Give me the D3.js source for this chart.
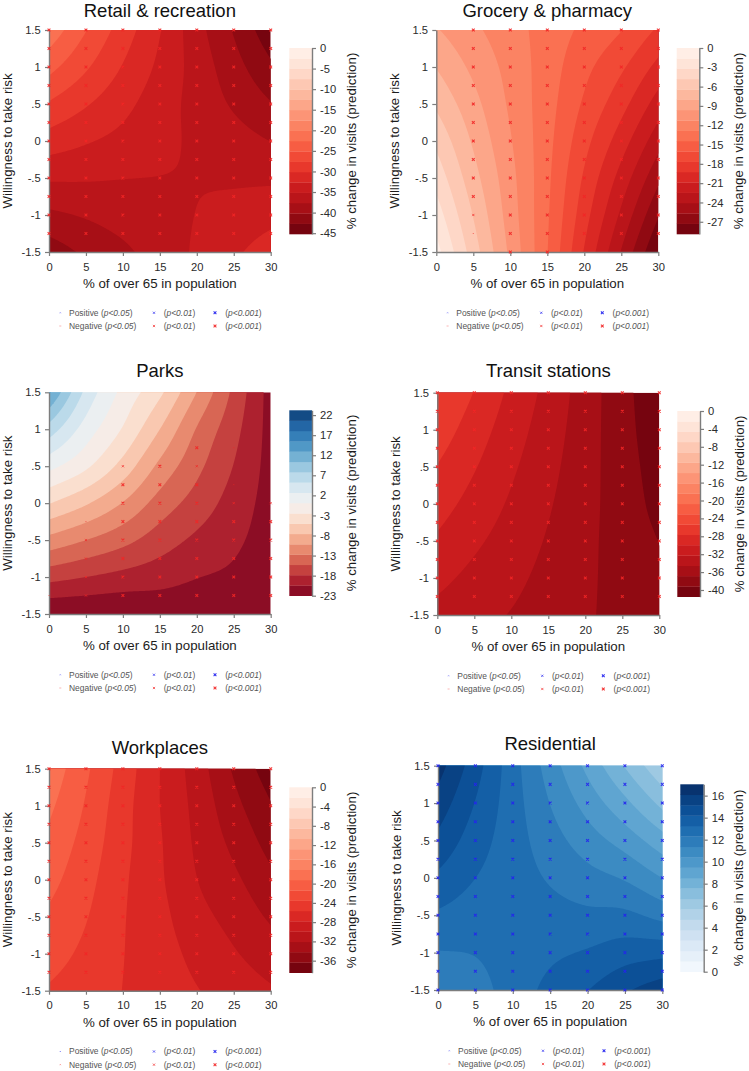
<!DOCTYPE html>
<html>
<head>
<meta charset="utf-8">
<script src="https://cdn.jsdelivr.net/npm/d3@7"></script>
<style>
html,body{margin:0;padding:0;background:#fff}
svg{display:block}
text{font-family:"Liberation Sans",Arial,sans-serif}
</style>
</head>
<body>
<svg id="chart" width="749" height="1071"></svg>
<script>
// ---- data ----
const xGrid = [0, 5, 10, 15, 20, 25, 30];
const yGrid = [1.5, 1, 0.5, 0, -0.5, -1, -1.5];
const yMarkers = [1.5, 1.25, 1, 0.75, 0.5, 0.25, 0, -0.25, -0.5, -0.75, -1, -1.25, -1.5];
const xTicks = [0, 5, 10, 15, 20, 25, 30];
const yTicks = [-1.5, -1, -0.5, 0, 0.5, 1, 1.5];
const yTickLabels = ["-1.5", "-1", "-.5", "0", ".5", "1", "1.5"];

const retailValues = [
  [-20.9,-25,-28.8,-32.5,-36.7,-40.4,-44.4],
  [-24.3,-27.3,-30.3,-33.2,-36.2,-39.2,-42.2],
  [-27.9,-29.9,-31.9,-34,-36,-38,-40],
  [-31.3,-32.4,-33.4,-34.5,-35.6,-36.6,-37.7],
  [-34.8,-34.9,-35.1,-35.2,-35.3,-35.5,-35.6],
  [-38.2,-37.4,-36.6,-35.9,-35.1,-34.3,-33.5],
  [-41.6,-39.7,-38.2,-36.5,-34.8,-33.1,-31.3]];
const groceryValues = [
  [-9.5,-10.9,-12.2,-13.5,-14.8,-16,-17.9],
  [-8.1,-10,-11.8,-13.65,-15.6,-17.4,-19.75],
  [-6.7,-9.1,-11.5,-13.8,-16.3,-18.7,-21.6],
  [-5.2,-8.25,-11.1,-13.95,-17.1,-20.1,-23.45],
  [-3.8,-7.4,-10.7,-14.1,-17.9,-21.5,-25.3],
  [-2.4,-6.5,-10.4,-14.25,-18.6,-22.8,-27.15],
  [-1,-5.6,-10,-14.4,-19.4,-24.2,-29]];
const parksValues = [
  [13.3,4.6,-0.6,-4.5,-10.2,-15.9,-21.5],
  [6.7,1.5,-2.7,-7.6,-12.9,-17,-21.4],
  [0.9,-2,-6,-10.8,-14.6,-17.95,-21.4],
  [-4.9,-7.3,-10.3,-13.8,-16.4,-18.95,-21.5],
  [-11,-12.73,-14.5,-16.6,-18.4,-19.9,-21.7],
  [-17,-17.87,-18.7,-19.4,-20.35,-20.95,-22.2],
  [-23,-23,-23,-22.5,-22.3,-22.2,-23]];
const transitValues = [
  [-25.2,-27.75,-30.5,-33,-35.7,-38.4,-41],
  [-26.4,-28.8,-31.2,-33.45,-35.85,-38.3,-40.7],
  [-27.75,-29.8,-31.9,-33.9,-36,-38.15,-40.3],
  [-29,-30.8,-32.6,-34.35,-36.15,-38,-39.9],
  [-30.3,-31.85,-33.3,-34.8,-36.3,-37.9,-39.25],
  [-31.65,-32.9,-34,-35.25,-36.45,-37.75,-38.9],
  [-33,-33.9,-34.7,-35.7,-36.6,-37.6,-38.5]];
const workplacesValues = [
  [-17.8,-21,-24.4,-27.8,-31,-34.5,-37.6],
  [-18.8,-21.6,-24.8,-27.8,-30.6,-33.55,-36.2],
  [-19.8,-22.2,-25,-27.6,-30.3,-32.6,-35],
  [-20.7,-22.8,-25.3,-27.5,-29.9,-31.65,-33.7],
  [-21.75,-23.4,-25.5,-27.2,-29.2,-30.7,-32.4],
  [-22.7,-24,-25.6,-26.9,-28.4,-29.75,-31],
  [-23.75,-24.6,-25.7,-26.7,-27.7,-28.8,-29.7]];
const residentialValues = [
  [16.5,14.6,12.7,10.9,9.2,7.5,5.8],
  [15.7,14.15,12.72,11.33,10.03,8.75,7.3],
  [14.9,13.7,12.73,11.77,10.86,10,8.9],
  [14,13.25,12.74,12.2,11.69,11.25,10.4],
  [13.1,12.8,12.75,12.63,12.5,12.5,12],
  [12.25,12.35,12.75,13.07,13.34,13.75,13.9],
  [11.4,11.9,12.75,13.5,14.17,15,15.7]];

// significance per marker: 0 none, 1 p<0.05, 2 p<0.01, 3 p<0.001 (rows follow yMarkers)
const retailSig = ["3333333","3333333","3333333","3333333","3333333","3333333","3333333","3333333","3333333","3333333","3333333","3333333","0000000"];
const grocerySig = ["0333333","0333333","0333333","0333333","0333333","0333333","0333333","0333333","0333333","0333333","0233333","0133333","0033000"];
const parksSig = ["0000000","0000000","0000000","0000310","0023200","0033310","0033322","0133333","0233333","0233333","0233333","1233333","0000000"];
const transitSig = ["3333333","3333333","3333333","3333333","3333333","3333333","3333333","3333333","3333333","3333333","3333333","3333333","0000000"];
const workplacesSig = ["3333333","3333333","3333333","3333333","3333333","3333333","3333333","3333333","3333333","3333333","3333333","3333333","0000000"];
const residentialSig = ["3333333","3333333","3333333","3333333","3333333","3333333","3333333","3333333","3333333","3333333","3333333","3333333","3333333"];

const retailBar = {min:-45.2, max:0, ticks:[0,-5,-10,-15,-20,-25,-30,-35,-40,-45]};
const groceryBar = {min:-28.9, max:0, ticks:[0,-3,-6,-9,-12,-15,-18,-21,-24,-27]};
const parksBar = {min:-23, max:23.2, ticks:[22,17,12,7,2,-3,-8,-13,-18,-23]};
const transitBar = {min:-41.5, max:0, ticks:[0,-4,-8,-12,-16,-20,-24,-28,-32,-36,-40]};
const workplacesBar = {min:-38.5, max:0, ticks:[0,-4,-8,-12,-16,-20,-24,-28,-32,-36]};
const residentialBar = {min:0, max:17.03, ticks:[0,2,4,6,8,10,12,14,16]};

const bandCount = 18;
const xTitle = "% of over 65 in population";
const yTitle = "Willingness to take risk";
const barTitle = "% change in visits (prediction)";

// ---- palettes ----
const redsFn = i => d3.interpolateReds(0.04 + 0.93 * (bandCount - 1 - i) / (bandCount - 1));
const bluesFn = i => d3.interpolateBlues(0.03 + 0.96 * i / (bandCount - 1));
const rdbuFn = i => d3.interpolateRdBu(0.05 + 0.9 * i / (bandCount - 1));

// ---- layout ----
const panels = [
  {title:"Retail & recreation", v:retailValues, s:retailSig, bar:retailBar, col:redsFn, L:49, R:270.7, T:30, B:252, bL:289.3, bR:312, bT:48, bB:234, tY:16.9, bO:44},
  {title:"Grocery & pharmacy", v:groceryValues, s:grocerySig, bar:groceryBar, col:redsFn, L:436.3, R:658.3, T:30, B:252, bL:676.7, bR:699.3, bT:48, bB:234, tY:16.9, bO:44},
  {title:"Parks", v:parksValues, s:parksSig, bar:parksBar, col:rdbuFn, L:49, R:270.7, T:392.3, B:614, bL:289.3, bR:312, bT:410.3, bB:595.7, tY:377, bO:44},
  {title:"Transit stations", v:transitValues, s:transitSig, bar:transitBar, col:redsFn, L:437.3, R:659.3, T:392.7, B:615, bL:677.3, bR:700, bT:411, bB:596.7, tY:377.3, bO:44.2},
  {title:"Workplaces", v:workplacesValues, s:workplacesSig, bar:workplacesBar, col:redsFn, L:49, R:270.7, T:768.7, B:990.7, bL:289.3, bR:312, bT:787.3, bB:972.7, tY:753.5, bO:44},
  {title:"Residential", v:residentialValues, s:residentialSig, bar:residentialBar, col:bluesFn, L:438, R:662.3, T:765.7, B:990, bL:680.3, bR:703.7, bT:784.3, bB:971.7, tY:750.3, bO:39.6}
];

const axisGrey = "#7d7d7d", labelCol = "#2b2b2b";
const svg = d3.select("#chart");
const defs = svg.append("defs");

// Catmull-Rom resampling of the read grid, only to draw smooth contour bands
function cr(p0, p1, p2, p3, t) {
  return 0.5 * (2 * p1 + (p2 - p0) * t + (2 * p0 - 5 * p1 + 4 * p2 - p3) * t * t + (3 * p1 - p0 - 3 * p2 + p3) * t * t * t);
}
function at(arr, i) {
  const n = arr.length;
  if (i < 0) return 2 * arr[0] - arr[1];
  if (i >= n) return 2 * arr[n - 1] - arr[n - 2];
  return arr[i];
}
function sample1(arr, g) {
  const i = Math.min(Math.floor(g), arr.length - 2), t = g - i;
  return cr(at(arr, i - 1), at(arr, i), at(arr, i + 1), at(arr, i + 2), t);
}
function upsample(v, f) {
  const nx = xGrid.length, ny = yGrid.length;
  const w = (nx - 1) * f + 1, h = (ny - 1) * f + 1, out = new Float64Array(w * h);
  for (let c = 0; c < w; c++) {
    const colVals = v.map(row => sample1(row, c / f));
    for (let r = 0; r < h; r++) out[r * w + c] = sample1(colVals, r / f);
  }
  return {w, h, out};
}

function crossMark(g, cx, cy, r, color, sw, op) {
  const p = d3.path();
  p.moveTo(cx - r, cy - r); p.lineTo(cx + r, cy + r);
  p.moveTo(cx - r, cy + r); p.lineTo(cx + r, cy - r);
  g.append("path").attr("d", p.toString()).attr("stroke", color).attr("stroke-width", sw).attr("fill", "none").attr("stroke-opacity", op);
}
const markStyle = {1:{r:0.5,w:0.7,o:0.5}, 2:{r:1.1,w:0.9,o:0.75}, 3:{r:1.4,w:1.05,o:0.9}};
const posColor = "#2424f0", negColor = "#f22626";

function styleAxis(g) {
  g.selectAll(".domain").attr("stroke", axisGrey).attr("stroke-width", 1.4);
  g.selectAll(".tick line").attr("stroke", axisGrey).attr("stroke-width", 1.2);
  g.selectAll(".tick text").attr("fill", labelCol).attr("font-size", 11.2).attr("font-family", '"Liberation Sans",Arial,sans-serif');
}

panels.forEach((P, idx) => {
  const g = svg.append("g");
  const xS = d3.scaleLinear().domain([0, 30]).range([P.L, P.R]);
  const yS = d3.scaleLinear().domain([-1.5, 1.5]).range([P.B, P.T]);
  const cS = d3.scaleLinear().domain([P.bar.min, P.bar.max]).range([P.bB, P.bT]);
  const step = (P.bar.max - P.bar.min) / bandCount;
  const levels = d3.range(bandCount).map(i => P.bar.min + i * step);
  const bandColor = i => P.col(i);

  // contour field
  const f = 24;
  const grid = upsample(P.v, f);
  const gx = d3.scaleLinear().domain([0.5, grid.w - 0.5]).range([xS(0), xS(30)]);
  const gy = d3.scaleLinear().domain([0.5, grid.h - 0.5]).range([yS(1.5), yS(-1.5)]);
  const path = d3.geoPath(d3.geoTransform({point(x, y) { this.stream.point(gx(x), gy(y)); }}));
  const contours = d3.contours().size([grid.w, grid.h]).smooth(true).thresholds(levels.slice(1))(grid.out);

  const clipId = "clip" + idx;
  defs.append("clipPath").attr("id", clipId).append("rect")
    .attr("x", P.L).attr("y", P.T).attr("width", P.R - P.L).attr("height", P.B - P.T);
  const plot = g.append("g").attr("clip-path", `url(#${clipId})`);
  plot.append("rect").attr("x", P.L).attr("y", P.T).attr("width", P.R - P.L).attr("height", P.B - P.T).attr("fill", bandColor(0));
  plot.selectAll("path").data(contours).join("path")
    .attr("d", path).attr("fill", (d, i) => bandColor(i + 1));

  // axes
  const ax = g.append("g").attr("transform", `translate(0,${P.B})`)
    .call(d3.axisBottom(xS).tickValues(xTicks).tickSize(4).tickPadding(6.8).tickSizeOuter(0));
  styleAxis(ax);
  const ay = g.append("g").attr("transform", `translate(${P.L},0)`)
    .call(d3.axisLeft(yS).tickValues(yTicks).tickSize(4).tickPadding(4.3).tickSizeOuter(0)
      .tickFormat(d => yTickLabels[yTicks.indexOf(d)]));
  styleAxis(ay);

  // significance markers
  const mk = g.append("g");
  P.s.forEach((row, r) => {
    const yv = yMarkers[r], rowIdx = r / 2;
    [...row].forEach((ch, c) => {
      const lev = +ch;
      if (!lev) return;
      const y0 = Math.min(Math.floor(rowIdx), yGrid.length - 2), t = rowIdx - y0;
      const val = (1 - t) * P.v[y0][c] + t * P.v[y0 + 1][c];
      const st = markStyle[lev];
      crossMark(mk, xS(xGrid[c]), yS(yv), st.r, val >= 0 ? posColor : negColor, st.w, st.o);
    });
  });

  // titles
  const cx = (P.L + P.R) / 2;
  g.append("text").attr("x", cx).attr("y", P.tY).attr("text-anchor", "middle")
    .attr("font-size", 18.5).attr("fill", "#111").text(P.title);
  g.append("text").attr("x", cx).attr("y", P.B + 35.8).attr("text-anchor", "middle")
    .attr("font-size", 13.3).attr("fill", "#1c1c1c").text(xTitle);
  g.append("text").attr("transform", `translate(${P.L - 37.3},${(P.T + P.B) / 2}) rotate(-90)`).attr("text-anchor", "middle")
    .attr("font-size", 13.3).attr("fill", "#1c1c1c").text(yTitle);

  // colour bar
  const bar = g.append("g");
  bar.selectAll("rect").data(levels).join("rect")
    .attr("x", P.bL).attr("width", P.bR - P.bL)
    .attr("y", d => cS(d + step)).attr("height", d => cS(d) - cS(d + step) + 0.3)
    .attr("fill", (d, i) => bandColor(i));
  const ac = g.append("g").attr("transform", `translate(${P.bR},0)`)
    .call(d3.axisRight(cS).tickValues(P.bar.ticks).tickSize(4).tickPadding(4).tickSizeOuter(0).tickFormat(d3.format("d")));
  styleAxis(ac);
  ac.selectAll(".tick text").text(d => String(d));
  g.append("text").attr("transform", `translate(${P.bR + P.bO},${(P.bT + P.bB) / 2}) rotate(-90)`).attr("text-anchor", "middle")
    .attr("font-size", 13.3).attr("fill", "#1c1c1c").text(barTitle);

  // legend
  const lg = g.append("g");
  const rows = [{y:P.B + 60.8, name:"Positive", c:posColor}, {y:P.B + 74, name:"Negative", c:negColor}];
  const legendText = (x, y, parts) => {
    const t = lg.append("text").attr("x", x).attr("y", y + 2.9).attr("font-size", 8.45).attr("fill", "#555");
    parts.forEach(([s, it]) => t.append("tspan").attr("font-style", it ? "italic" : "normal").text(s));
  };
  rows.forEach(row => {
    const s1 = markStyle[1], s2 = markStyle[2], s3 = markStyle[3];
    crossMark(lg, P.L + 11.3, row.y, s1.r, row.c, s1.w, s1.o);
    legendText(P.L + 20, row.y, [[row.name + " (", 0], ["p<0.05", 1], [")", 0]]);
    crossMark(lg, P.L + 105, row.y, s2.r, row.c, s2.w, s2.o);
    legendText(P.L + 114.7, row.y, [["(", 0], ["p<0.01", 1], [")", 0]]);
    crossMark(lg, P.L + 166, row.y, s3.r, row.c, s3.w, s3.o);
    legendText(P.L + 176.3, row.y, [["(", 0], ["p<0.001", 1], [")", 0]]);
  });
});
</script>
</body>
</html>
